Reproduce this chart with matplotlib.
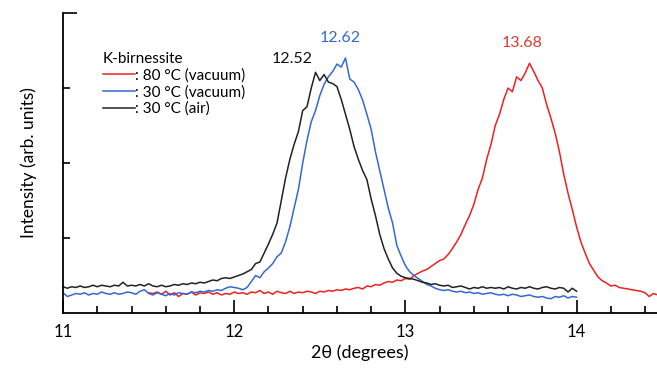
import numpy as np
import matplotlib
matplotlib.use("Agg")
import matplotlib.pyplot as plt
from matplotlib.ticker import MultipleLocator

plt.rcParams["font.family"] = ["Lato", "DejaVu Sans"]

# 2theta grids (degrees)
x_air = np.arange(121) * 0.025 + 11.0
x_vac30 = np.arange(121) * 0.025 + 11.0
x_vac80 = np.arange(120) * 0.025 + 11.5

# 30 C (air)
y_air = [
    0.35, 0.33, 0.35, 0.34, 0.36, 0.34, 0.35, 0.37, 0.35, 0.37,
    0.36, 0.35, 0.37, 0.36, 0.41, 0.36, 0.37, 0.36, 0.38, 0.36,
    0.39, 0.36, 0.35, 0.37, 0.35, 0.36, 0.38, 0.37, 0.39, 0.38,
    0.40, 0.39, 0.41, 0.40, 0.42, 0.44, 0.43, 0.46, 0.47, 0.46,
    0.48, 0.50, 0.52, 0.55, 0.58, 0.66, 0.68, 0.80, 0.92, 1.05,
    1.20, 1.50, 1.80, 2.05, 2.25, 2.42, 2.70, 2.75, 3.00, 3.21,
    3.10, 3.18, 3.08, 3.06, 3.02, 2.85, 2.65, 2.45, 2.22, 2.05,
    1.90, 1.78, 1.52, 1.30, 1.05, 0.86, 0.72, 0.60, 0.53, 0.49,
    0.47, 0.46, 0.45, 0.43, 0.41, 0.40, 0.38, 0.39, 0.37, 0.36,
    0.37, 0.34, 0.35, 0.36, 0.34, 0.32, 0.34, 0.33, 0.35, 0.33,
    0.34, 0.33, 0.34, 0.32, 0.35, 0.33, 0.32, 0.34, 0.33, 0.35,
    0.33, 0.32, 0.34, 0.35, 0.33, 0.32, 0.34, 0.33, 0.28, 0.33,
    0.29,
]

# 30 C (vacuum)
y_vac30 = [
    0.27, 0.22, 0.24, 0.26, 0.25, 0.27, 0.24, 0.26, 0.25, 0.28,
    0.26, 0.25, 0.27, 0.25, 0.26, 0.28, 0.27, 0.25, 0.29, 0.31,
    0.26, 0.24, 0.27, 0.25, 0.23, 0.26, 0.24, 0.27, 0.26, 0.25,
    0.28, 0.27, 0.29, 0.28, 0.30, 0.29, 0.31, 0.30, 0.33, 0.35,
    0.34, 0.33, 0.31, 0.34, 0.42, 0.50, 0.47, 0.55, 0.60, 0.66,
    0.75, 0.80, 0.95, 1.15, 1.40, 1.65, 2.00, 2.30, 2.55, 2.70,
    2.90, 3.05, 3.15, 3.22, 3.32, 3.28, 3.40, 3.12, 3.08, 2.98,
    2.84, 2.65, 2.45, 2.15, 1.90, 1.65, 1.40, 1.20, 0.90, 0.76,
    0.63, 0.55, 0.50, 0.46, 0.42, 0.38, 0.36, 0.33, 0.31, 0.30,
    0.31, 0.29, 0.28, 0.29, 0.27, 0.28, 0.26, 0.27, 0.25, 0.26,
    0.27, 0.25, 0.24, 0.25, 0.23, 0.25, 0.24, 0.22, 0.23, 0.24,
    0.22, 0.21, 0.22, 0.20, 0.19, 0.22, 0.21, 0.23, 0.20, 0.22,
    0.21,
]

# 80 C (vacuum)
y_vac80 = [
    0.27, 0.26, 0.28, 0.25, 0.29, 0.24, 0.27, 0.22, 0.26, 0.25,
    0.28, 0.24, 0.27, 0.26, 0.28, 0.25, 0.27, 0.24, 0.26, 0.25,
    0.28, 0.26, 0.27, 0.25, 0.28, 0.27, 0.30, 0.26, 0.28, 0.25,
    0.29, 0.27, 0.26, 0.29, 0.26, 0.28, 0.27, 0.29, 0.28, 0.26,
    0.29, 0.28, 0.30, 0.29, 0.31, 0.30, 0.32, 0.31, 0.33, 0.34,
    0.32, 0.36, 0.35, 0.38, 0.37, 0.40, 0.42, 0.41, 0.44, 0.43,
    0.46, 0.45, 0.50, 0.53, 0.56, 0.58, 0.62, 0.66, 0.70, 0.72,
    0.78, 0.86, 0.95, 1.05, 1.18, 1.30, 1.45, 1.65, 1.80, 2.05,
    2.25, 2.50, 2.65, 2.85, 3.00, 2.95, 3.15, 3.10, 3.20, 3.33,
    3.22, 3.10, 3.00, 2.78, 2.60, 2.40, 2.15, 1.85, 1.60, 1.38,
    1.15, 0.95, 0.80, 0.66, 0.57, 0.48, 0.43, 0.40, 0.36, 0.37,
    0.34, 0.33, 0.32, 0.31, 0.30, 0.29, 0.27, 0.22, 0.26, 0.24,
]

labels = [": 80 °C (vacuum)", ": 30 °C (vacuum)", ": 30 °C (air)"]
peaks = ["13.68", "12.62", "12.52"]
peak_pos = [(13.68, 3.60), (12.62, 3.67), (12.34, 3.39)]
colors = ["#f02020", "#3567d6", "#222222"]

fig = plt.figure(figsize=(6.57, 3.68), dpi=100)
ax = fig.add_axes([0.096, 0.1495, 0.904, 0.815])

ax.plot(x_vac80, y_vac80, color=colors[0], lw=1.1, label=labels[0])
ax.plot(x_vac30, y_vac30, color=colors[1], lw=1.1, label=labels[1])
ax.plot(x_air, y_air, color=colors[2], lw=1.1, label=labels[2])

text_colors = ["#e03a30", "#3567d6", "#111111"]
for txt, (px, py), c in zip(peaks, peak_pos, text_colors):
    ax.text(px, py, txt, color=c, fontsize=11.5, ha="center", va="center")

ax.set_xlim(11, 14.47)
ax.set_ylim(0, 4)
ax.spines["top"].set_visible(False)
ax.spines["right"].set_visible(False)
for s in ["left", "bottom"]:
    ax.spines[s].set_linewidth(1.3)

ax.xaxis.set_major_locator(MultipleLocator(1))
ax.xaxis.set_minor_locator(MultipleLocator(0.2))
ax.tick_params(axis="x", which="major", direction="in", length=9.5, width=1.2,
               labelsize=12, pad=8)
ax.tick_params(axis="x", which="minor", direction="in", length=5, width=1.2)
ax.set_yticks([1, 2, 3, 4])
ax.set_yticklabels([])
ax.tick_params(axis="y", direction="in", length=5, width=1.2)
ax.yaxis.get_major_ticks()[-1].tick1line.set_markersize(10)

ax.set_xlabel("2θ (degrees)", fontsize=13, labelpad=3)
ax.set_ylabel("Intensity (arb. units)", fontsize=12.5, labelpad=15)

leg = ax.legend(title="K-birnessite", loc="upper left", bbox_to_anchor=(0.057, 0.89),
                frameon=False, fontsize=11, title_fontsize=11, handlelength=2.1,
                handletextpad=0.0, labelspacing=0.15, borderaxespad=0)
leg._legend_box.align = "left"

fig.savefig("out.png", dpi=100)
